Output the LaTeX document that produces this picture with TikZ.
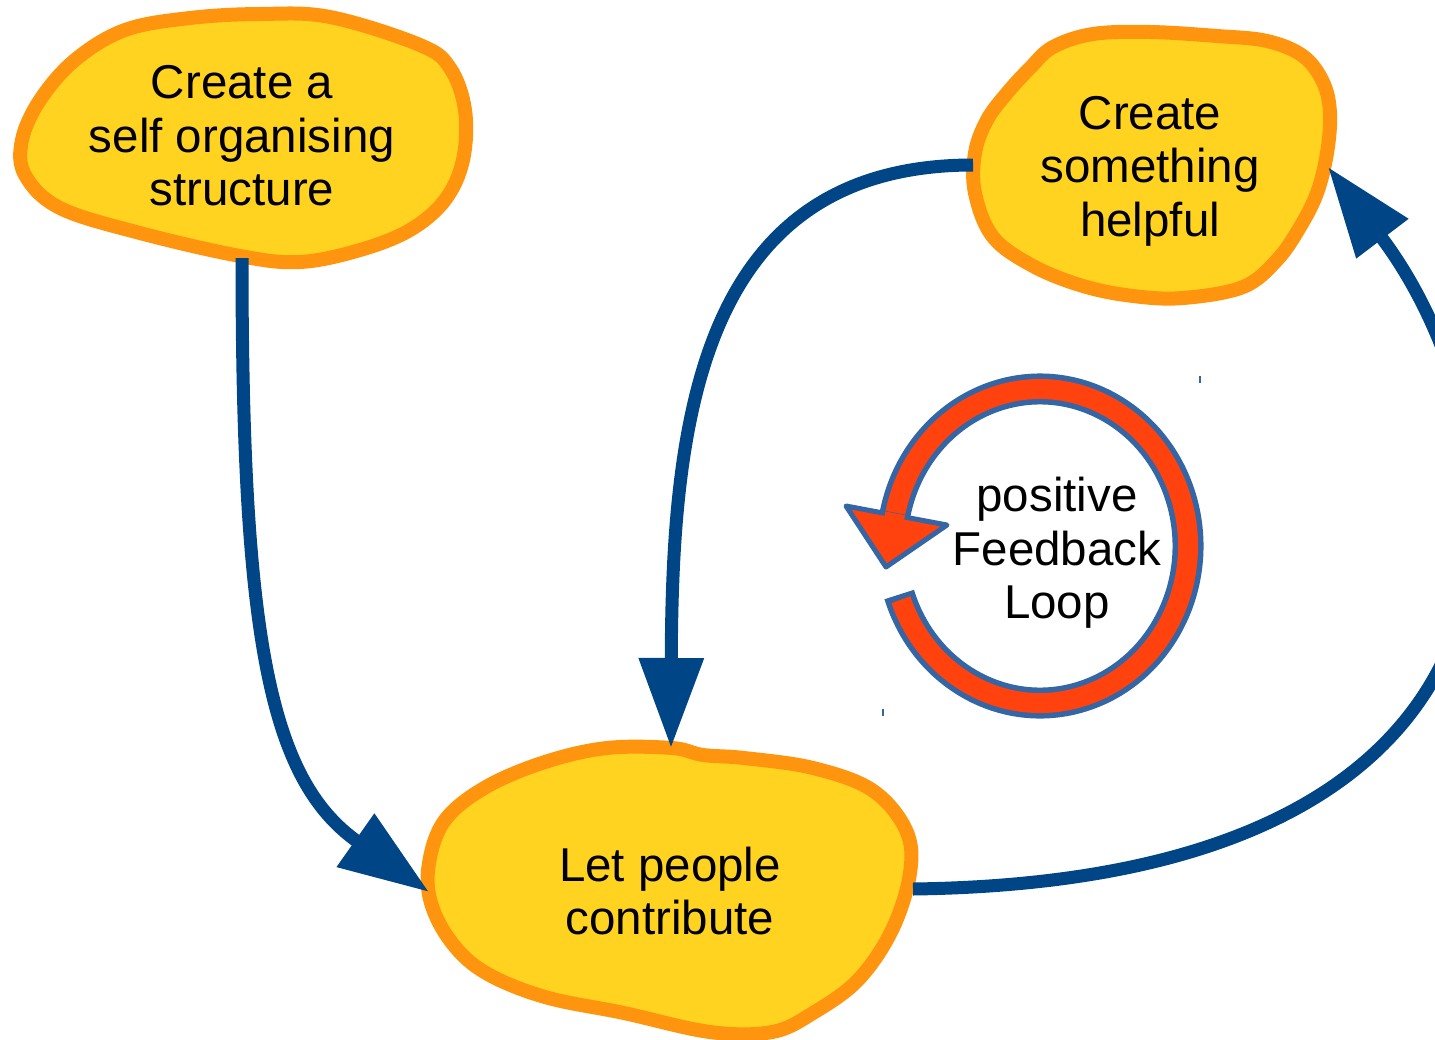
\documentclass[tikz,border=0pt]{standalone}
\usepackage{fontspec}
\setmainfont{Liberation Sans}
\usetikzlibrary{arrows.meta}
\definecolor{blobyellow}{HTML}{FFD320}
\definecolor{bloborange}{HTML}{FF950E}
\definecolor{flowblue}{HTML}{004586}
\definecolor{loopred}{HTML}{FF420E}
\definecolor{loopblue}{HTML}{3465A4}
\tikzset{
    Blob/.style = {draw=bloborange, fill=blobyellow, line width=14pt}
}
\tikzset{
    Label/.style = {align=center, inner sep=0pt, font=\fontsize{47.5}{53.5}\selectfont}
}
\tikzset{
    Edge/.style = {draw=flowblue, line width=13pt, -{Triangle[length=90pt, width=62pt]}}
}
\begin{document}
\begin{tikzpicture}[x=1pt, y=-1pt]
\tikzset{
    Ring/.style = {line width=20pt, draw=loopred},
    RingEdge/.style = {line width=31pt, draw=loopblue},
    RingHead/.style = {line width=5pt, draw=loopblue, fill=loopred, line join=round},
    Tick/.style = {line width=1.2pt, draw=loopblue}
}
\useasboundingbox (0,0) rectangle (1435,1039);
\fill[white] (0,0) rectangle (1435,1039);
\draw[Blob] plot[smooth cycle, tension=0.6] coordinates {(125,30) (190,18) (260,14) (330,17) (420,45) (450,68) (465,110) (463,160) (445,200) (410,230) (360,250) (300,262) (240,256) (140,233) (60,208) (25,175) (22,140) (40,100) (75,60)};
\draw[Blob] plot[smooth cycle, tension=0.6] coordinates {(1053,47) (1093,34) (1150,32) (1217,36) (1267,41) (1303,56) (1323,82) (1330,113) (1327,153) (1317,193) (1300,227) (1277,260) (1243,287) (1183,298) (1133,296) (1083,286) (1033,266) (993,237) (975,193) (975,153) (987,120) (1007,93) (1030,68)};
\draw[Blob] plot[smooth cycle, tension=0.6] coordinates {(672,748) (607,748) (545,762) (486,787) (445,820) (429,863) (431,903) (452,943) (486,973) (545,997) (624,1013) (710,1032) (772,1032) (813,1013) (858,980) (892,930) (910,873) (906,830) (872,790) (813,768) (744,758) (703,755)};
\node[Label] at (242,136) (self) {Create a\\self organising\\structure};
\node[Label] at (1150,171) (helpful) {Create\\something\\helpful};
\node[Label] at (670,891) (people) {Let people\\contribute};
\node[Label] at (1057,553) (loop) {positive\\Feedback\\Loop};
\coordinate (selfS) at (242,258);
\coordinate (helpfulW) at (973,165);
\coordinate (helpfulE) at (1328,167);
\coordinate (peopleW) at (429,892);
\coordinate (peopleN) at (671,748);
\coordinate (peopleE) at (913,889);
\draw[Edge] (selfS) .. controls (242,640) and (270,780) .. (peopleW);
\draw[Edge] (helpfulW) .. controls (700,165) and (672,420) .. (peopleN);
\draw[Edge] (peopleE) .. controls (1600,880) and (1520,420) .. (helpfulE);
\coordinate (loopC) at (1040,546);
\coordinate (headA) at (846,506);
\coordinate (headTip) at (886,567);
\coordinate (headB) at (947,525);
\draw[RingEdge] ([shift={(162:148 and 157)}]loopC) arc[start angle=162, end angle=-169, x radius=148, y radius=157];
\draw[Ring] ([shift={(160:148 and 157)}]loopC) arc[start angle=160, end angle=-169, x radius=148, y radius=157];
\draw[RingHead] (headA) -- (headTip) -- (headB) -- cycle;
\draw[Ring] ([shift={(-168:148 and 157)}]loopC) arc[start angle=-168, end angle=-176, x radius=148, y radius=157];
\draw[Tick] (1200,376) -- (1200,383);
\draw[Tick] (883,709) -- (883,716);
\end{tikzpicture}
\end{document}
